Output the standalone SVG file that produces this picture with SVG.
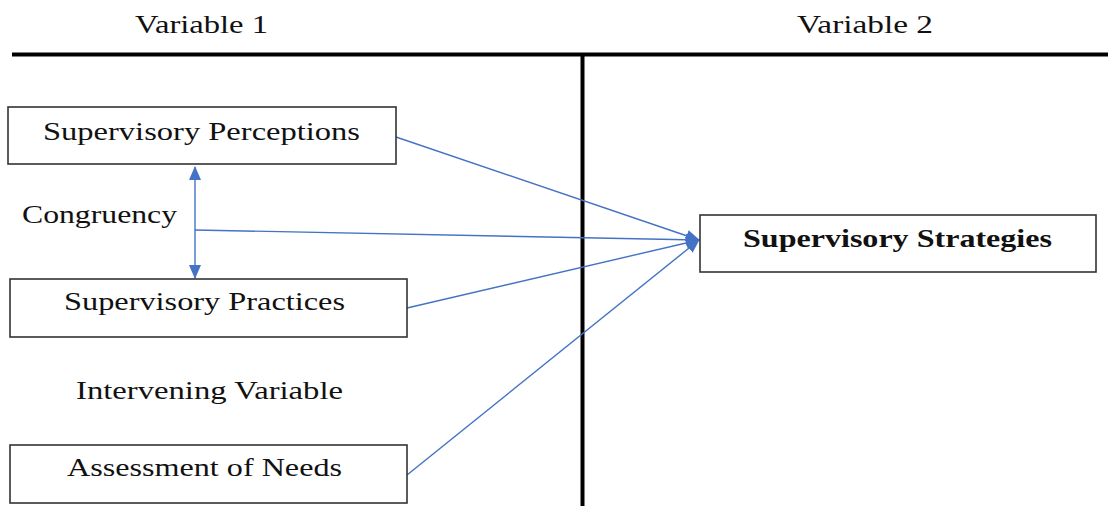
<svg xmlns="http://www.w3.org/2000/svg" width="1108" height="506" viewBox="0 0 1108 506">
<style>
.t{font-family:"Liberation Serif","Times New Roman",serif;font-size:25px;fill:#111}
.b{font-weight:bold}
.box{fill:#fff;stroke:#333;stroke-width:1.6}
.axis{stroke:#000;stroke-width:4;fill:none}
.c{stroke:#4472C4;stroke-width:1.4;fill:none}
</style>
<defs>
<marker id="ah" markerUnits="userSpaceOnUse" markerWidth="14" markerHeight="14" refX="13" refY="7" orient="auto-start-reverse">
<path d="M0,1 L14,7 L0,13 z" fill="#4472C4"/>
</marker>
</defs>
<g id="axes">
<line class="axis" x1="12" y1="54.5" x2="1108" y2="54.5"/>
<line class="axis" x1="582.5" y1="54.5" x2="582.5" y2="506"/>
</g>
<g id="headers">
<text class="t" x="135" y="33" textLength="133" lengthAdjust="spacingAndGlyphs">Variable 1</text>
<text class="t" x="797" y="33" textLength="136" lengthAdjust="spacingAndGlyphs">Variable 2</text>
</g>
<g id="connectors">
<line class="c" x1="195" y1="167" x2="195" y2="278" marker-start="url(#ah)" marker-end="url(#ah)"/>
<line class="c" x1="396" y1="137" x2="699" y2="240" marker-end="url(#ah)"/>
<line class="c" x1="195" y1="230" x2="699" y2="240" marker-end="url(#ah)"/>
<line class="c" x1="407" y1="308" x2="699" y2="240" marker-end="url(#ah)"/>
<line class="c" x1="407" y1="475" x2="699" y2="240" marker-end="url(#ah)"/>
</g>
<g id="perceptions">
<rect class="box" x="8" y="107" width="388" height="57"/>
<text class="t" x="43" y="140" textLength="317" lengthAdjust="spacingAndGlyphs">Supervisory Perceptions</text>
</g>
<g id="congruency">
<text class="t" x="22" y="223" textLength="155" lengthAdjust="spacingAndGlyphs">Congruency</text>
</g>
<g id="practices">
<rect class="box" x="10" y="279" width="397" height="58"/>
<text class="t" x="64" y="310" textLength="281" lengthAdjust="spacingAndGlyphs">Supervisory Practices</text>
</g>
<g id="intervening">
<text class="t" x="76" y="399" textLength="267" lengthAdjust="spacingAndGlyphs">Intervening Variable</text>
</g>
<g id="assessment">
<rect class="box" x="10" y="445" width="397" height="58"/>
<text class="t" x="67" y="476" textLength="275" lengthAdjust="spacingAndGlyphs">Assessment of Needs</text>
</g>
<g id="strategies">
<rect class="box" x="700" y="215" width="396" height="57"/>
<text class="t b" x="743" y="247" textLength="309" lengthAdjust="spacingAndGlyphs">Supervisory Strategies</text>
</g>
</svg>
